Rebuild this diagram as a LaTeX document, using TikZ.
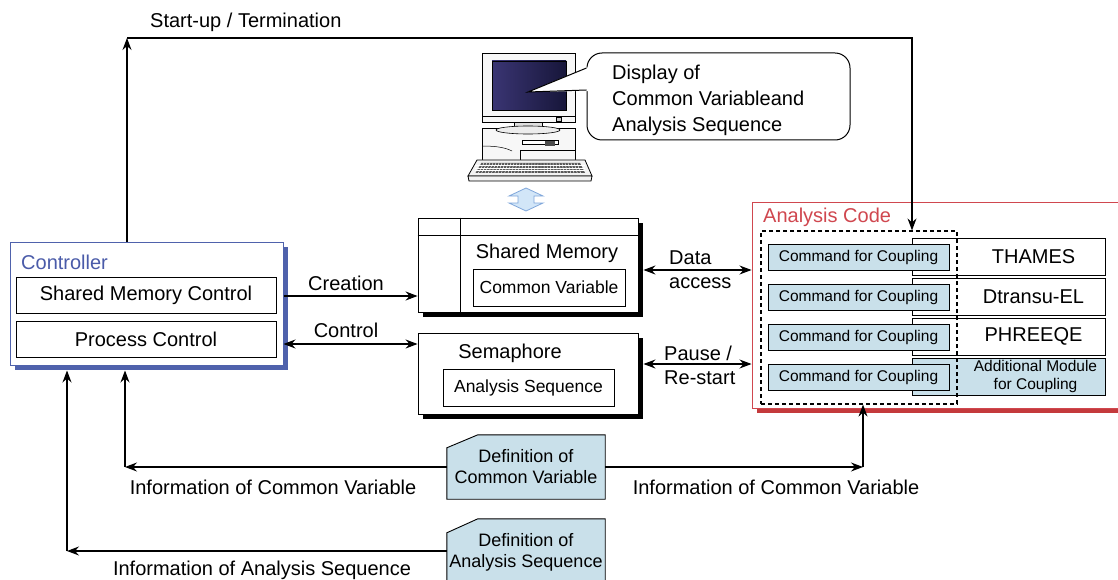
\documentclass[tikz,border=0pt]{standalone}
\usepackage{fontspec}
\setmainfont{Liberation Sans}
\usetikzlibrary{arrows.meta,shadows,calc,backgrounds}

\definecolor{ctrlblue}{HTML}{4F62AC}
\definecolor{ctrltext}{HTML}{4A5BA9}
\definecolor{codered}{HTML}{D0474F}
\definecolor{codeshadow}{HTML}{C43A3C}
\definecolor{cmdfill}{HTML}{C9E0EA}
\definecolor{arrowfill}{HTML}{D2E6F8}
\definecolor{arrowline}{HTML}{7FA6DA}
\definecolor{screenA}{HTML}{3A3573}
\definecolor{screenB}{HTML}{17163A}

\newcommand\fsmain{\fontsize{20}{24}\selectfont}
\newcommand\fsbox{\fontsize{17.5}{21}\selectfont}
\newcommand\fssmall{\fontsize{15.5}{17.5}\selectfont}
\newcommand\fsdef{\fontsize{18}{21}\selectfont}

\begin{document}
\begin{tikzpicture}[x=1pt,y=-1pt,
  every node/.style={font=\fsmain, inner sep=0pt},
  link/.style={line width=1.1pt, -{Stealth[length=12pt,width=9pt,inset=4pt]}},
  dlink/.style={line width=1.1pt, {Stealth[length=12pt,width=9pt,inset=4pt]}-{Stealth[length=12pt,width=9pt,inset=4pt]}},
  plainbox/.style={draw, line width=0.9pt, fill=white},
  blackshadow/.style={drop shadow={shadow xshift=5pt,shadow yshift=-5pt,fill=black,opacity=1}},
  codebox/.style={draw, line width=0.8pt, fill=white, minimum width=193pt, minimum height=37pt},
  cmdbox/.style={draw, line width=0.8pt, fill=cmdfill, minimum width=181pt, minimum height=26pt, font=\fssmall},
  defbox/.style={minimum width=158pt, align=center, font=\fsdef}]

\useasboundingbox (0,0) rectangle (1118,580);

% ---------- workstation ----------
\draw[line width=0.8pt, fill=gray!6] (482,53) rectangle (575,122);
\shade[left color=screenA, right color=screenB] (492,61) rectangle (566,110);
\draw[line width=0.6pt] (492,61) rectangle (566,110);
\draw[line width=0.5pt] (482,116) -- (575,116);
\draw[line width=0.4pt, fill=gray!40] (556,117) rectangle (561,121);
\draw[line width=0.6pt, fill=gray!25] (514,122) rectangle (542,127);
\draw[line width=0.8pt, fill=gray!6] (482,128) rectangle (575,160);
\draw[line width=0.6pt, fill=gray!15] (528,130) ellipse [x radius=32pt, y radius=4pt];
\draw[line width=0.6pt, fill=white] (522,140) rectangle (558,144);
\fill[black!70] (545,141) rectangle (555,146);
\draw[line width=0.5pt] (520,150) -- (575,150) (520,150) -- (520,160);
\draw[line width=0.5pt] (482,146) .. controls (498,146) and (506,148) .. (512,151);
\draw[line width=0.8pt, fill=gray!10] (477,160) -- (585,160) -- (592,176) -- (468,176) -- cycle;
\draw[line width=0.8pt, fill=gray!10] (468,176) -- (592,176) -- (591,181) -- (469,181) -- cycle;
\fill[black!65] (481,163) -- (580,163) -- (585,173) -- (475,173) -- cycle;
\foreach \k in {0,...,32} \draw[white, line width=0.45pt] ({481+3*\k},163) -- ({475+3.3*\k},173);
\foreach \r in {165.5,168,170.5} \draw[white, line width=0.45pt] (475,\r) -- (585,\r);

% up/down link between workstation and shared memory
\draw[fill=arrowfill, draw=arrowline, line width=0.8pt] (526,188) -- (543,196) -- (534,196) -- (534,203) -- (543,203) -- (526,211) -- (509,203) -- (518,203) -- (518,196) -- (509,196) -- cycle;

% ---------- speech bubble ----------
\node[draw, line width=1pt, fill=white, rounded corners=15pt, minimum width=263pt, minimum height=87pt] (bubble) at (718.5,96.5) {};
\coordinate (tailtip) at (528,92);
\fill[white] ($(bubble.west)+(2,-29.5)$) -- (tailtip) -- ($(bubble.west)+(2,-5.5)$) -- cycle;
\draw[line width=1pt] ($(bubble.west)+(0,-28.5)$) -- (tailtip) -- ($(bubble.west)+(0,-6.5)$);
\node[anchor=west, align=left, font=\fontsize{20}{26}\selectfont] (bubbletext) at (612,100) {Display of\\Common Variableand\\Analysis Sequence};

% ---------- controller ----------
\node[draw=ctrlblue, line width=1pt, fill=white, minimum width=273pt, minimum height=123pt,
      drop shadow={shadow xshift=5pt,shadow yshift=-5pt,fill=ctrlblue,opacity=1}] (ctrl) at (146.5,303.5) {};
\node[text=ctrltext, anchor=west] (ctrltitle) at (21,262) {Controller};
\node[plainbox, minimum width=260pt, minimum height=36pt] (smc) at (146,295) {Shared Memory Control};
\node[plainbox, minimum width=260pt, minimum height=36pt] (pc) at (146,339) {Process Control};

% ---------- shared memory ----------
\node[plainbox, blackshadow, minimum width=220pt, minimum height=94pt] (shm) at (528,265) {};
\draw[line width=0.9pt] ($(shm.north west)+(0,18)$) -- ($(shm.north east)+(0,18)$);
\draw[line width=0.9pt] ($(shm.north west)+(43,0)$) -- ($(shm.south west)+(43,0)$);
\node (shmlabel) at (547,253) {Shared Memory};
\node[plainbox, font=\fsbox, minimum width=152pt, minimum height=37pt] (cv) at (549,287.5) {Common Variable};

% ---------- semaphore ----------
\node[plainbox, blackshadow, minimum width=220pt, minimum height=81pt] (sem) at (528,373.5) {};
\node (semlabel) at (510,353) {Semaphore};
\node[plainbox, font=\fsbox, minimum width=171pt, minimum height=37pt] (as) at (528.5,387.5) {Analysis Sequence};

% ---------- analysis code ----------
\node[draw=codered, line width=1pt, fill=white, minimum width=376pt, minimum height=206pt,
      drop shadow={shadow xshift=5pt,shadow yshift=-5pt,fill=codeshadow,opacity=1}] (acode) at (940,305) {};
\node[text=codered, anchor=west] (acodetitle) at (763,217) {Analysis Code};

\node[codebox, label={[xshift=25pt]center:THAMES}] (thames) at (1008.5,256.5) {};
\node[codebox, label={[xshift=25pt]center:Dtransu-EL}] (dtransu) at (1008.5,296.5) {};
\node[codebox, label={[xshift=25pt]center:PHREEQE}] (phreeqe) at (1008.5,336.5) {};
\node[codebox, fill=cmdfill, label={[xshift=27pt, font=\fssmall, align=center]center:{Additional Module\\for Coupling}}] (addmod) at (1008.5,376.5) {};

\node[cmdbox] (cmd1) at (858.5,257) {Command for Coupling};
\node[cmdbox] (cmd2) at (858.5,297) {Command for Coupling};
\node[cmdbox] (cmd3) at (858.5,337) {Command for Coupling};
\node[cmdbox] (cmd4) at (858.5,377) {Command for Coupling};

\node[draw, line width=1.2pt, dash pattern=on 4pt off 3pt, minimum width=196pt, minimum height=173pt] (dash) at (859,317.5) {};

% ---------- definition files ----------
\node[defbox, minimum height=64pt] (def1) at (526,467) {Definition of\\Common Variable};
\node[defbox, minimum height=67pt] (def2) at (526,552.5) {Definition of\\Analysis Sequence};
\begin{scope}[on background layer]
\draw[line width=0.9pt, fill=cmdfill] (def1.south west) -- ($(def1.north west)+(0,13)$) -- ($(def1.north west)+(31,0)$) -- (def1.north east) -- (def1.south east) -- cycle;
\draw[line width=0.9pt, fill=cmdfill] (def2.south west) -- ($(def2.north west)+(0,14)$) -- ($(def2.north west)+(31,0)$) -- (def2.north east) -- (def2.south east) -- cycle;
\end{scope}

% ---------- connectors ----------
\coordinate (tl) at (127,38);
\coordinate (tr) at (912,38);
\draw[link] (ctrl.north -| tl) -- (tl);
\draw[link] (tl) -- (tr) -- (dash.north -| tr);
\node[anchor=west] (startlbl) at (150,22) {Start-up / Termination};

\coordinate (ycre) at (0,296);
\draw[link] (ctrl.east |- ycre) -- (shm.west |- ycre);
\node (crelbl) at (346,283) {Creation};

\coordinate (yctl) at (0,344);
\draw[dlink] (ctrl.east |- yctl) -- (sem.west |- yctl);
\node (ctllbl) at (346,330) {Control};

\coordinate (ydat) at (0,270);
\draw[dlink] ($(shm.east |- ydat)+(5,0)$) -- (acode.west |- ydat);
\node[anchor=west, align=left] (datalbl) at (669,270) {Data\\access};

\coordinate (ypau) at (0,364);
\draw[dlink] ($(sem.east |- ypau)+(5,0)$) -- (acode.west |- ypau);
\node[anchor=west, align=left] (pauselbl) at (664,365) {Pause /\\Re-start};

\coordinate (bl1) at (125,467);
\coordinate (br1) at (863,467);
\draw[link] (def1.west) -- (bl1);
\draw[link] (bl1) -- ($(ctrl.south -| bl1)+(0,5)$);
\draw[link] (def1.east) -- (br1);
\draw[link] (br1) -- (dash.south -| br1);
\node (infocv1) at (273,487) {Information of Common Variable};
\node (infocv2) at (776,487) {Information of Common Variable};

\coordinate (bl2) at (67,551);
\draw[link] (def2.west |- bl2) -- (bl2);
\draw[link] (bl2) -- ($(ctrl.south -| bl2)+(0,5)$);
\node (infoas) at (262,570) {Information of Analysis Sequence};

\end{tikzpicture}
\end{document}
